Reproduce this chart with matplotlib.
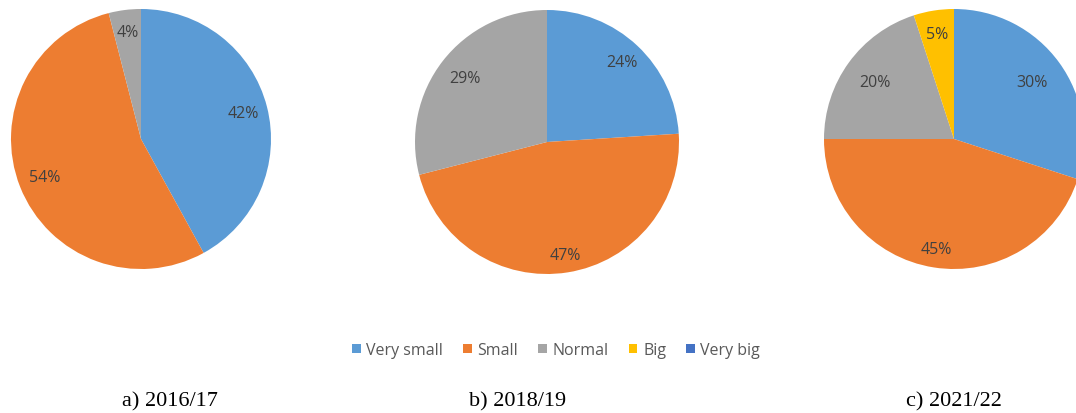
import matplotlib
matplotlib.use("Agg")
import numpy as np
import matplotlib.pyplot as plt
from matplotlib.patches import Patch

categories = ["Very small", "Small", "Normal", "Big", "Very big"]
colors = ["#5B9BD5", "#ED7D31", "#A5A5A5", "#FFC000", "#4472C4"]

vals_2016 = [42, 54, 4]
vals_2018 = [24, 47, 29]
vals_2021 = [30, 45, 20, 5]
titles = ["a) 2016/17", "b) 2018/19", "c) 2021/22"]

W, H = 1076, 414
fig = plt.figure(figsize=(W / 100, H / 100), dpi=100)
fig.patch.set_facecolor("white")

# pie centers (px, from top), radius, label distances (style)
specs = [
    (vals_2016, 141, 140, 130, [0.81, 0.80, 0.83]),
    (vals_2018, 547, 143, 132, [0.83, 0.87, 0.79]),
    (vals_2021, 954, 140, 130, [0.74, 0.86, 0.75, 0.82]),
]
title_x = [170, 518, 954]

for (vals, cx, cy, r, dists) in specs:
    ax = fig.add_axes([(cx - r) / W, (H - cy - r) / H, 2 * r / W, 2 * r / H])
    wedges, texts, autotexts = ax.pie(
        vals, colors=colors[:len(vals)], startangle=90, counterclock=False,
        radius=1, autopct=lambda p: f"{p:.0f}%", pctdistance=0.8,
        textprops=dict(color="#404040", fontsize=11.5, family="Open Sans"),
        wedgeprops=dict(linewidth=0))
    for w, t, d in zip(wedges, autotexts, dists):
        ang = np.deg2rad((w.theta1 + w.theta2) / 2)
        t.set_position((d * np.cos(ang), d * np.sin(ang)))
    ax.set_xlim(-1, 1)
    ax.set_ylim(-1, 1)
    ax.set_aspect("auto")
    ax.axis("off")

handles = [Patch(facecolor=c, edgecolor="none") for c in colors]
fig.legend(handles, categories, loc="center", bbox_to_anchor=(556 / W, 1 - 351 / H),
           ncol=5, frameon=False, prop=dict(family="Open Sans", size=11.5),
           handlelength=0.55, handleheight=0.55, handletextpad=0.35,
           columnspacing=1.25, labelcolor="#595959")

for tx, t in zip(title_x, titles):
    fig.text(tx / W, 1 - 402 / H, t, ha="center", va="center",
             family="Liberation Serif", fontsize=16, color="#000000")

fig.savefig("out.png", dpi=100)
